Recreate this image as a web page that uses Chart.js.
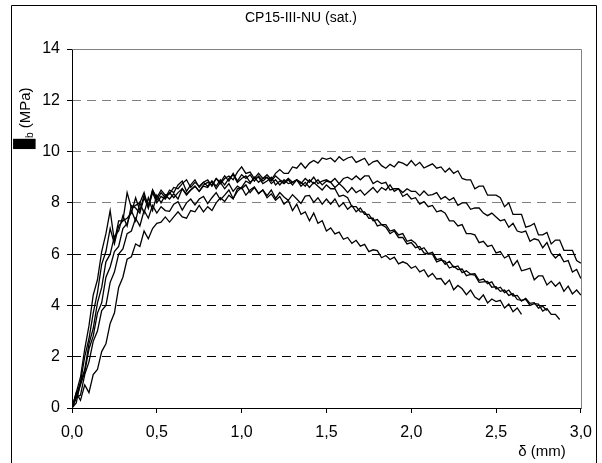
<!DOCTYPE html>
<html><head><meta charset="utf-8">
<script src="https://cdn.jsdelivr.net/npm/chart.js@4.4.0/dist/chart.umd.min.js"></script>
<style>html,body{margin:0;padding:0;background:#fff;}</style>
</head><body>
<canvas id="c" width="602" height="463" style="display:block;width:602px;height:463px"></canvas>
<script>
const chartTitle = 'CP15-III-NU (sat.)';
const xAxisTitle = '\u03b4 (mm)';
const yAxisTitleParts = ['\u2588', 'b', ' (MPa)'];

const deltaMM = [0,0.025,0.05,0.075,0.1,0.125,0.15,0.175,0.2,0.225,0.25,0.275,0.3,0.325,0.35,0.375,0.4,0.425,0.45,0.475,0.5,0.525,0.55,0.575,0.6,0.625,0.65,0.675,0.7,0.725,0.75,0.775,0.8,0.825,0.85,0.875,0.9,0.925,0.95,0.975,1,1.025,1.05,1.075,1.1,1.125,1.15,1.175,1.2,1.225,1.25,1.275,1.3,1.325,1.35,1.375,1.4,1.425,1.45,1.475,1.5,1.525,1.55,1.575,1.6,1.625,1.65,1.675,1.7,1.725,1.75,1.775,1.8,1.825,1.85,1.875,1.9,1.925,1.95,1.975,2,2.025,2.05,2.075,2.1,2.125,2.15,2.175,2.2,2.225,2.25,2.275,2.3,2.325,2.35,2.375,2.4,2.425,2.45,2.475,2.5,2.525,2.55,2.575,2.6,2.625,2.65,2.675,2.7,2.725,2.75,2.775,2.8,2.825,2.85,2.875,2.9,2.925,2.95,2.975,3];

const tauA = [0,0.6,0.3,0.9,0.6,1.3,1.5,2.2,2.5,3.3,3.7,4.7,5.1,5.8,5.9,6.4,6.3,6.9,6.6,7.0,7.2,
  7.25,7.45,7.25,7.45,7.65,7.45,7.4,7.7,7.65,7.9,7.65,7.85,7.7,8.0,8.2,8.05,8.3,8.15,8.55,8.6,
  8.85,8.75,9.0,8.8,8.95,9.1,8.9,9.15,9.3,9.15,9.15,9.4,9.35,9.55,9.35,9.55,9.65,9.55,9.75,9.7,
  9.75,9.6,9.8,9.65,9.75,9.8,9.58,9.66,9.74,9.47,9.6,9.65,9.45,9.35,9.5,9.4,9.6,9.55,9.45,9.65,
  9.45,9.58,9.36,9.44,9.52,9.35,9.4,9.2,9.35,9.15,9.25,8.95,8.9,8.9,8.55,8.65,8.65,8.3,8.3,8.3,
  8.2,7.85,8.0,7.55,7.55,7.55,7.05,7.1,7.2,6.75,6.75,6.85,6.4,6.55,6.55,6.15,6.15,6.15,5.75,5.65];

const tauB = [0,0.4,0.9,1.4,2.3,2.8,3.7,4.1,5.1,5.5,6.1,6.3,7.0,7.2,7.7,7.3,8.0,7.6,8.2,7.7,8.3,
  8.0,8.3,8.15,8.35,8.15,8.55,8.3,8.5,8.65,8.45,8.65,8.6,8.85,8.65,8.9,8.7,8.95,9.1,8.8,8.95,
  9.05,8.8,8.95,9.0,8.75,8.85,9.0,8.7,8.85,8.75,8.9,8.7,8.9,8.8,8.65,8.9,8.75,8.9,8.7,8.85,
  8.8,8.6,8.75,8.6,8.4,8.6,8.4,8.5,8.3,8.45,8.6,8.4,8.6,8.5,8.7,8.45,8.55,8.4,8.55,8.45,
  8.45,8.28,8.46,8.29,8.32,8.4,8.15,8.25,8.1,8.2,7.9,8.0,8.0,7.75,7.8,7.8,7.6,7.5,7.6,7.45,
  7.3,7.35,7.05,7.2,6.9,6.85,6.9,6.5,6.6,6.55,6.25,6.45,6.05,5.85,6.0,5.7,5.75,5.3,5.4,5.05];

const tauC = [0,0.2,1.0,1.5,2.5,3.1,4.1,4.7,5.7,6.0,6.7,6.9,7.5,7.1,7.9,7.8,7.6,8.2,7.8,8.4,8.0,
  8.25,8.15,8.4,8.2,8.4,8.55,8.35,8.5,8.65,8.45,8.7,8.8,8.7,8.95,8.75,8.95,9.05,8.9,9.2,9.4,
  9.15,9.2,8.95,9.15,8.95,9.0,8.85,9.05,8.9,8.8,8.95,8.8,8.9,8.75,8.95,8.8,9.0,8.75,8.85,8.9,
  8.8,8.95,8.75,8.95,9.0,8.9,9.05,8.9,9.05,9.05,8.75,8.85,8.75,8.8,8.5,8.55,8.55,8.25,8.35,8.15,
  8.2,7.95,8.05,7.85,7.9,7.65,7.7,7.6,7.3,7.3,7.1,7.15,6.8,6.8,6.75,6.45,6.5,6.3,6.35,6.05,
  6.1,5.85,5.95,5.55,5.75,5.35,5.4,5.45,5.0,5.15,5.15,4.8,4.95,4.75,4.9,4.55,4.75,4.45,4.6,4.4];

const tauD = [0,0.5,1.0,2.0,2.7,3.7,4.5,5.6,6.1,7.0,6.4,7.1,7.3,7.4,7.6,8.2,7.7,8.3,7.9,8.5,8.2,
  8.5,8.3,8.35,8.6,8.55,8.75,8.9,8.6,8.8,8.65,8.8,8.9,8.65,8.95,8.8,9.05,8.85,9.15,8.85,9.1,
  8.95,9.1,8.85,9.05,8.85,9.0,8.75,8.9,8.7,8.9,8.75,8.8,8.9,8.65,8.8,8.6,8.8,8.65,8.5,8.7,
  8.55,8.55,8.25,8.3,8.2,7.85,7.85,7.65,7.65,7.4,7.4,7.1,7.15,7.05,6.8,6.9,6.65,6.65,6.4,6.45,
  6.25,6.3,6.05,6.0,6.0,5.7,5.77,5.72,5.46,5.53,5.4,5.42,5.16,5.21,5.18,4.9,4.92,4.94,4.71,4.73,
  4.55,4.6,4.39,4.46,4.23,4.2,4.24,4.0,4.07,4.05,3.78,3.88,3.65,3.65,3.45];

const tauE = [0,0.4,0.5,1.3,1.8,2.6,3.0,3.8,4.0,4.9,5.3,6.0,6.2,6.8,6.9,7.4,7.1,7.7,7.4,7.9,7.6,
  7.85,7.7,7.67,7.95,8.05,7.72,8.0,8.15,7.92,8.15,8.25,7.97,8.2,8.4,8.12,8.3,8.5,8.17,8.45,8.6,
  8.3,8.5,8.62,8.37,8.5,8.28,8.5,8.17,8.4,8.23,8.1,8.32,8.15,7.98,8.26,8.29,8.02,8.2,7.95,8.15,
  7.95,8.15,7.85,8.0,7.75,7.9,7.65,7.8,7.55,7.55,7.3,7.35,7.15,7.15,6.9,6.95,6.75,6.8,6.5,6.55,
  6.43,6.17,6.25,6.02,6.07,5.79,5.83,5.6,5.72,5.49,5.54,5.28,5.35,5.22,5.24,4.98,5.03,4.85,4.92,4.64,
  4.71,4.5,4.6,4.37,4.39,4.17,4.28,4.08,4.11,3.89,3.97,3.8];

const tauF = [0,0.6,1.2,2.3,3.2,4.4,5.0,6.1,6.8,7.7,6.5,7.3,7.3,8.4,7.8,7.9,8.0,8.4,7.8,8.5,8.1,
  8.4,8.2,8.5,8.4,8.7,8.85,8.45,8.7,8.9,8.6,8.8,8.65,8.85,8.55,8.8,8.55,8.75,8.45,8.65,8.55,
  8.7,8.4,8.6,8.35,8.5,8.2,8.35,8.1,8.25,7.95,8.1,7.7,7.95,7.55,7.65,7.3,7.6,7.2,7.3,6.9,
  7.02,6.79,6.86,6.58,6.65,6.42,6.54,6.31,6.38,6.1,6.17,6.14,5.86,5.95,5.79,5.88,5.62,5.7,5.63,5.45,
  5.53,5.31,5.39,5.12,5.25,5.03,5.05,4.82,4.99,4.61,4.78,4.65,4.42,4.6,4.33,4.22,4.41,4.1,4.25,4.15,
  4.2,3.9,4.05,3.75,3.9,3.65];

const seriesList = [tauA, tauB, tauC, tauD, tauE, tauF];

const datasets = seriesList.map(s => ({
  data: s.map((v, i) => ({x: deltaMM[i], y: v})),
  borderColor: '#000',
  borderWidth: 1.3,
  pointRadius: 0,
  fill: false,
  tension: 0
}));

const FONT = '"Liberation Sans", Arial, sans-serif';

const decor = {
  id: 'decor',
  beforeDatasetsDraw(chart) {
    const ctx = chart.ctx, a = chart.chartArea;
    const L = Math.round(a.left) + 0.5, R = Math.round(a.right) + 0.5;
    const T = Math.round(a.top) + 0.5, B = Math.round(a.bottom) + 0.5;
    ctx.save();
    ctx.lineWidth = 1;
    ctx.strokeStyle = '#808080';
    ctx.beginPath();
    ctx.moveTo(L, T); ctx.lineTo(R, T); ctx.lineTo(R, B);
    ctx.stroke();
    ctx.restore();
  },
  afterDraw(chart) {
    const ctx = chart.ctx, a = chart.chartArea;
    const L = Math.round(a.left) + 0.5, B = Math.round(a.bottom) + 0.5;
    const T = Math.round(a.top) + 0.5, R = Math.round(a.right) + 0.5;
    ctx.save();
    ctx.strokeStyle = '#000';
    ctx.lineWidth = 1;
    ctx.beginPath();
    ctx.moveTo(L, T); ctx.lineTo(L, B); ctx.lineTo(R, B);
    ctx.stroke();
    ctx.fillStyle = '#fff';
    ctx.fillRect(597, 0, 10, 463);
    ctx.beginPath();
    ctx.moveTo(11.5, 463); ctx.lineTo(11.5, 5.5); ctx.lineTo(596.5, 5.5); ctx.lineTo(596.5, 463);
    ctx.stroke();
    ctx.fillStyle = '#000';
    ctx.font = '14px ' + FONT;
    ctx.textAlign = 'center';
    ctx.textBaseline = 'middle';
    ctx.fillText(chartTitle, 301, 18);
    ctx.font = '15px ' + FONT;
    ctx.fillText(xAxisTitle, 542, 452);
    ctx.translate(30, 149);
    ctx.rotate(-Math.PI / 2);
    ctx.textAlign = 'left';
    ctx.textBaseline = 'alphabetic';
    ctx.save();
    ctx.font = '19px "DejaVu Sans", sans-serif';
    const bw = ctx.measureText(yAxisTitleParts[0]).width;
    ctx.scale(10 / bw, 1);
    ctx.fillText(yAxisTitleParts[0], 0, 0.5);
    ctx.restore();
    ctx.font = '10px ' + FONT;
    ctx.fillText(yAxisTitleParts[1], 11, 3);
    const w2 = ctx.measureText(yAxisTitleParts[1]).width;
    ctx.font = '15px ' + FONT;
    ctx.fillText(yAxisTitleParts[2], 11 + w2, 0);
    ctx.restore();
  }
};

new Chart(document.getElementById('c'), {
  type: 'line',
  data: { datasets },
  options: {
    responsive: false,
    animation: false,
    devicePixelRatio: 1,
    layout: { padding: { left: 0, top: 49, right: 17, bottom: 0 } },
    plugins: { legend: { display: false }, tooltip: { enabled: false }, title: { display: false } },
    elements: { line: { borderJoinStyle: 'miter' } },
    scales: {
      x: {
        type: 'linear', min: 0, max: 3,
        afterFit(s) { s.height = 55; },
        border: { display: false },
        grid: { drawOnChartArea: false, drawTicks: true, tickLength: 5, tickColor: '#000', tickWidth: 1 },
        ticks: {
          stepSize: 0.5, padding: 10, color: '#000', maxRotation: 0, autoSkip: false,
          font: { family: FONT, size: 16 },
          callback: v => v.toFixed(1).replace('.', ',')
        }
      },
      y: {
        type: 'linear', min: 0, max: 14,
        afterFit(s) { s.width = 72; },
        border: { display: false, dash: [9, 6] },
        grid: {
          drawTicks: true, tickLength: 5, tickColor: '#000', tickWidth: 1, tickBorderDash: [],
          lineWidth: 1,
          color: c => {
            const v = c.tick && c.tick.value;
            if (v === 0 || v === 14) return 'rgba(0,0,0,0)';
            return v <= 6 ? '#000' : '#808080';
          }
        },
        ticks: {
          stepSize: 2, padding: 7, color: '#000',
          font: { family: FONT, size: 16 }
        }
      }
    }
  },
  plugins: [decor]
});
</script>
</body></html>
